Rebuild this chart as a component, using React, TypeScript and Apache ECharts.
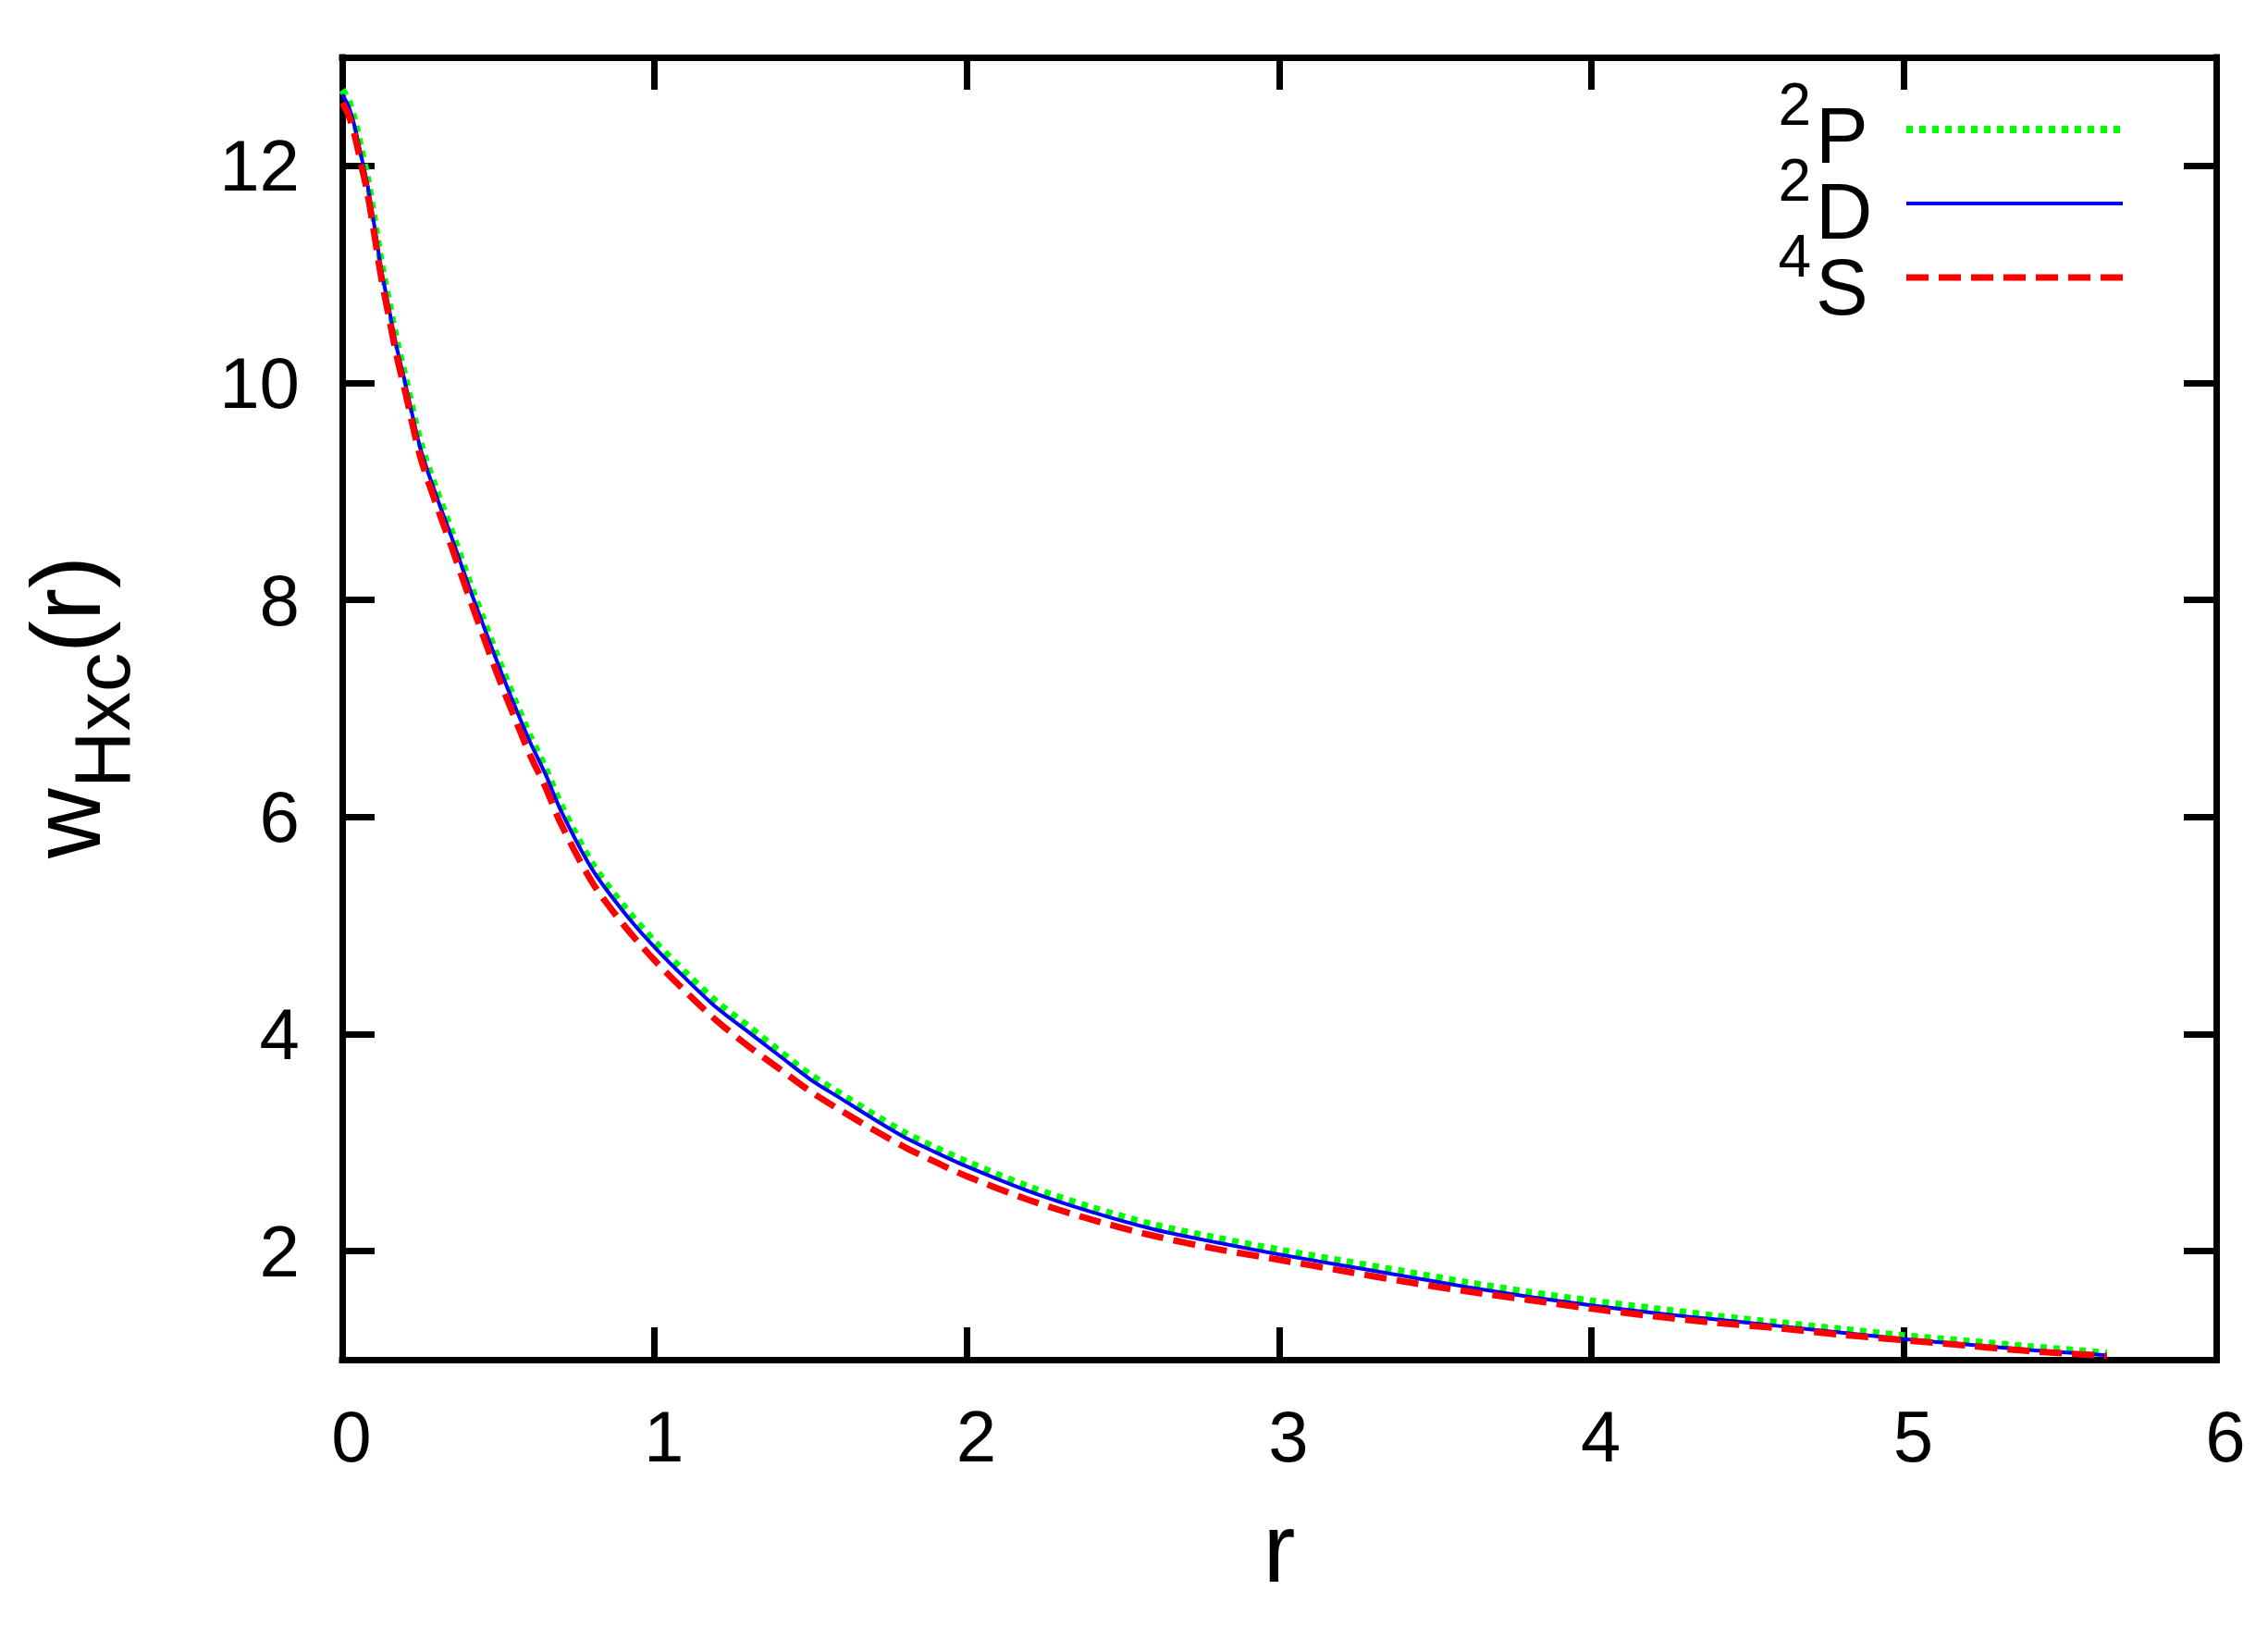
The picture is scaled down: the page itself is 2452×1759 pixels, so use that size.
import React, { useEffect, useRef } from 'react';
import * as echarts from 'echarts';

const R = [0, 0.02, 0.04, 0.06, 0.08, 0.10, 0.125, 0.15, 0.175, 0.20, 0.25, 0.30, 0.35, 0.40, 0.45, 0.50, 0.55, 0.60, 0.65, 0.70, 0.80, 0.90, 1.00, 1.10, 1.20, 1.30, 1.40, 1.50, 1.60, 1.70, 1.80, 1.90, 2.00, 2.20, 2.40, 2.60, 2.80, 3.00, 3.20, 3.40, 3.60, 3.80, 4.00, 4.20, 4.40, 4.60, 4.80, 5.00, 5.20, 5.40, 5.65];

const W_2P = [12.70, 12.60, 12.41, 12.15, 11.89, 11.55, 11.10, 10.73, 10.37, 10.07, 9.45, 9.02, 8.63, 8.22, 7.83, 7.45, 7.09, 6.75, 6.45, 6.11, 5.57, 5.18, 4.85, 4.56, 4.29, 4.07, 3.84, 3.62, 3.44, 3.26, 3.09, 2.95, 2.82, 2.59, 2.40, 2.24, 2.12, 2.01, 1.91, 1.81, 1.71, 1.62, 1.54, 1.47, 1.40, 1.34, 1.28, 1.22, 1.17, 1.12, 1.06];

const W_2D = [12.66, 12.55, 12.36, 12.10, 11.84, 11.50, 11.05, 10.68, 10.32, 10.02, 9.40, 8.97, 8.58, 8.17, 7.78, 7.40, 7.04, 6.70, 6.40, 6.06, 5.52, 5.13, 4.80, 4.51, 4.24, 4.02, 3.80, 3.58, 3.40, 3.22, 3.05, 2.91, 2.78, 2.55, 2.36, 2.20, 2.08, 1.97, 1.87, 1.77, 1.67, 1.58, 1.50, 1.43, 1.37, 1.31, 1.25, 1.19, 1.14, 1.09, 1.04];

const W_4S = [12.58, 12.47, 12.28, 12.02, 11.76, 11.42, 10.97, 10.60, 10.24, 9.94, 9.32, 8.89, 8.49, 8.08, 7.68, 7.29, 6.93, 6.58, 6.28, 5.94, 5.40, 5.01, 4.68, 4.39, 4.12, 3.89, 3.68, 3.47, 3.29, 3.12, 2.96, 2.82, 2.69, 2.47, 2.29, 2.14, 2.02, 1.92, 1.82, 1.72, 1.63, 1.55, 1.47, 1.40, 1.34, 1.29, 1.23, 1.18, 1.13, 1.08, 1.035];

const SERIES_NAMES = ['2P', '2D', '4S'];
const LEGEND_SUP = ['2', '2', '4'];
const LEGEND_BASE = ['P', 'D', 'S'];
const Y_TICKS = [2, 4, 6, 8, 10, 12];
const X_MIN = 0;
const X_MAX = 6;
const Y_MIN = 1;
const Y_MAX = 13;

const FONT = 'Liberation Sans';

export default function App() {
  const ref = useRef<HTMLDivElement>(null);

  useEffect(() => {
    const chart = echarts.init(ref.current!, null, { renderer: 'svg' });
    const pairs = (ys: number[]) => R.map((r, i) => [r, ys[i]]);
    const axisLine = { show: true, onZero: false, lineStyle: { color: '#000', width: 7, cap: 'square' } };
    const tick = { show: true, inside: true, length: 35, lineStyle: { color: '#000', width: 7 } };

    const legendRowY = (i: number) => 140 + 82 * i;
    const legendTexts: any[] = [];
    LEGEND_BASE.forEach((b, i) => {
      const ly = legendRowY(i);
      legendTexts.push({
        type: 'text', x: 1958, y: ly - 27.2,
        style: { text: LEGEND_SUP[i], fontSize: 64, lineHeight: 60, fontFamily: FONT, fill: '#000', align: 'right', verticalAlign: 'middle' },
      });
      legendTexts.push({
        type: 'text', x: 1963, y: ly + 6.5,
        style: { text: b, fontSize: 85, lineHeight: 78, fontFamily: FONT, fill: '#000', align: 'left', verticalAlign: 'middle' },
      });
    });

    chart.setOption({
      animation: false,
      backgroundColor: '#fff',
      textStyle: { fontFamily: FONT, color: '#000' },
      grid: { left: 370, right: 56, top: 62, bottom: 289, containLabel: false },
      xAxis: [
        {
          type: 'value', min: X_MIN, max: X_MAX, interval: 1, position: 'bottom',
          axisLine, axisTick: tick, splitLine: { show: false },
          axisLabel: { fontSize: 78, color: '#000', margin: 44, padding: [0, 0, 0, 20], fontFamily: FONT },
          name: 'r', nameLocation: 'middle', nameGap: 151,
          nameTextStyle: { fontSize: 105, color: '#000', fontFamily: FONT },
        },
        {
          type: 'value', min: X_MIN, max: X_MAX, interval: 1, position: 'top',
          axisLine, axisTick: tick, splitLine: { show: false }, axisLabel: { show: false },
        },
      ],
      yAxis: [
        {
          type: 'value', min: Y_MIN, max: Y_MAX, position: 'left',
          axisLine, axisTick: { ...tick, customValues: Y_TICKS }, splitLine: { show: false },
          axisLabel: { customValues: Y_TICKS, fontSize: 78, color: '#000', margin: 46, fontFamily: FONT },
        },
        {
          type: 'value', min: Y_MIN, max: Y_MAX, position: 'right',
          axisLine, axisTick: { ...tick, customValues: Y_TICKS }, splitLine: { show: false },
          axisLabel: { show: false },
        },
      ],
      legend: {
        orient: 'vertical', right: 153, top: 130, padding: 0, itemGap: 62, align: 'right',
        itemWidth: 234, itemHeight: 20, selectedMode: false,
        lineStyle: { width: 'inherit', type: 'inherit' },
        itemStyle: { opacity: 0 },
        data: SERIES_NAMES,
        formatter: () => '',
        textStyle: { fontSize: 10, color: '#000', fontFamily: FONT },
      },
      graphic: [
        {
          type: 'group', x: 108, y: 928, rotation: Math.PI / 2,
          children: [
            { type: 'text', x: 0, y: -36.4, style: { text: 'w', fontSize: 105, fontFamily: FONT, fill: '#000', align: 'left', verticalAlign: 'middle' } },
            { type: 'text', x: 76, y: 2.5, style: { text: 'Hxc', fontSize: 85, fontFamily: FONT, fill: '#000', align: 'left', verticalAlign: 'middle' } },
            { type: 'text', x: 222, y: -36.4, style: { text: '(r)', fontSize: 105, fontFamily: FONT, fill: '#000', align: 'left', verticalAlign: 'middle' } },
          ],
        },
        ...legendTexts,
      ],
      series: [
        {
          name: SERIES_NAMES[0], type: 'line', data: pairs(W_2P), symbol: 'none', smooth: 0.3,
          lineStyle: { color: '#00ff00', width: 8, type: [7, 7], cap: 'butt' }, itemStyle: { color: '#00ff00' }, z: 2,
        },
        {
          name: SERIES_NAMES[1], type: 'line', data: pairs(W_2D), symbol: 'none', smooth: 0.3,
          lineStyle: { color: '#0000ff', width: 4, type: 'solid' }, itemStyle: { color: '#0000ff' }, z: 3,
        },
        {
          name: SERIES_NAMES[2], type: 'line', data: pairs(W_4S), symbol: 'none', smooth: 0.3,
          lineStyle: { color: '#ff0000', width: 7, type: [24, 11], cap: 'butt' }, itemStyle: { color: '#ff0000' }, z: 4,
        },
      ],
    });
    return () => chart.dispose();
  }, []);

  return <div ref={ref} style={{ position: 'absolute', left: 0, top: 0, width: 2452, height: 1759 }} />;
}
